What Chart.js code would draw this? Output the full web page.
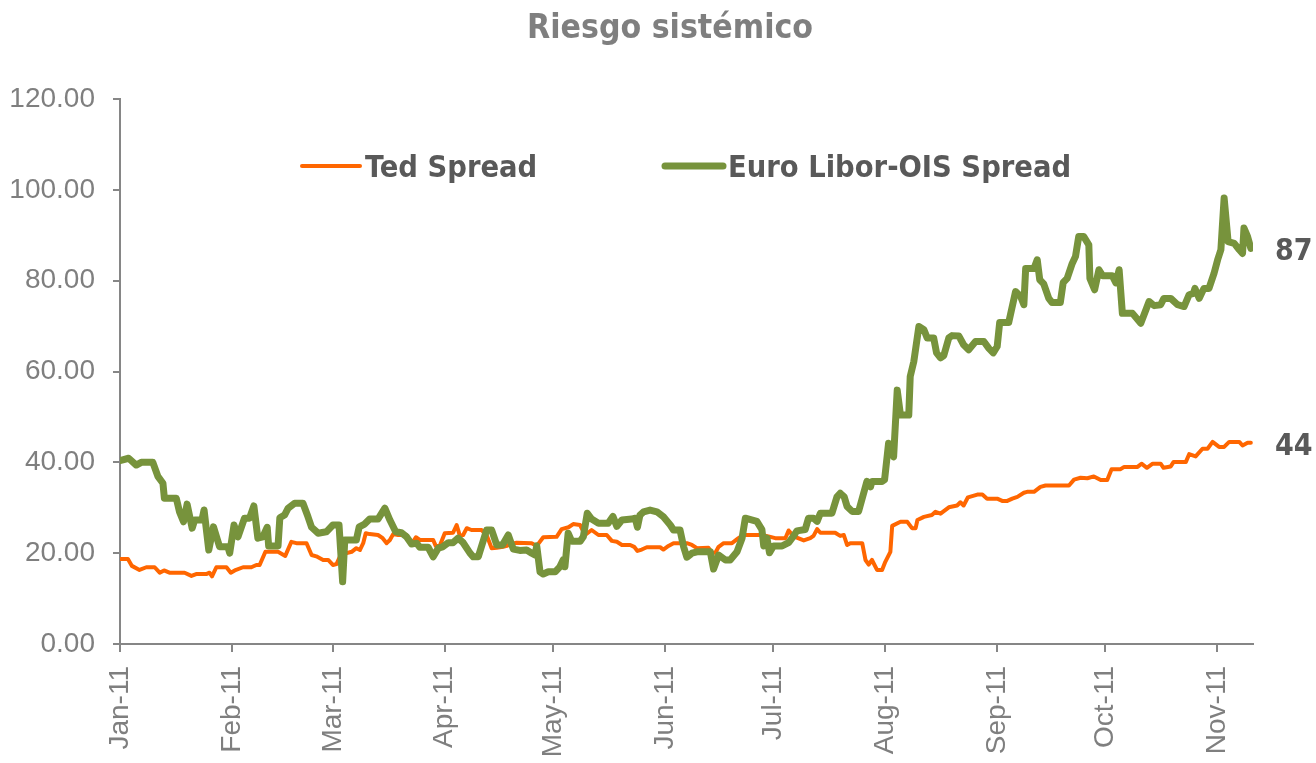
<!DOCTYPE html>
<html>
<head>
<meta charset="utf-8">
<script src="https://cdn.jsdelivr.net/npm/chart.js@4/dist/chart.umd.min.js"></script>
<style>
html, body { margin: 0; background: #fff; }
#wrap { width: 1316px; height: 763px; }
</style>
</head>
<body>
<div id="wrap"><canvas id="chart"></canvas></div>
<script>
// x = days since 1 Jan 2011
const monthTicks = [0, 31, 59, 90, 120, 151, 181, 212, 243, 273, 304];
const monthLabels = ["Jan-11", "Feb-11", "Mar-11", "Apr-11", "May-11", "Jun-11", "Jul-11", "Aug-11", "Sep-11", "Oct-11", "Nov-11"];
const seriesNames = ["Ted Spread", "Euro Libor-OIS Spread"];
const chartTitle = "Riesgo sistémico";

const tedDays = [
  0.1, 2.2, 3.3, 5.4, 7.3, 9.6, 11.0, 12.2, 13.7, 17.9,
  19.8, 21.1, 23.9, 24.8, 25.5, 26.7, 29.5, 30.7, 31.8, 34.1,
  36.4, 37.8, 38.7, 40.3, 43.8, 45.8, 47.5, 48.9, 51.7, 53.1,
  54.4, 56.3, 57.7, 59.0, 60.0, 61.4, 62.8, 64.2, 65.5, 66.5,
  67.4, 68.1, 69.2, 71.5, 72.8, 73.9, 74.8, 75.7, 77.1, 79.4,
  80.8, 82.0, 83.1, 86.8, 87.5, 88.6, 90.0, 92.3, 93.3, 94.2,
  95.1, 96.1, 97.4, 100.2, 101.6, 103.0, 104.4, 106.2, 107.2, 108.1,
  109.9, 114.1, 115.5, 117.3, 121.0, 122.4, 124.3, 125.6, 127.5, 128.9,
  130.7, 132.6, 134.9, 136.3, 137.7, 139.1, 141.4, 142.5, 143.4, 144.6,
  146.0, 149.7, 150.6, 152.0, 153.4, 157.1, 158.5, 159.9, 163.1, 164.0,
  165.0, 165.9, 167.3, 169.6, 171.4, 172.8, 177.9, 179.7, 181.6, 184.4,
  185.3, 186.7, 189.5, 191.3, 192.2, 193.2, 194.1, 198.2, 199.6, 200.6,
  201.5, 202.4, 205.7, 206.6, 207.5, 208.4, 209.8, 211.2, 212.1, 213.5,
  214.0, 216.3, 218.2, 219.5, 220.5, 221.0, 222.8, 225.0, 226.0, 227.4,
  229.7, 232.0, 232.9, 233.8, 235.0, 237.6, 239.0, 240.3, 243.1, 244.5,
  245.9, 247.3, 248.7, 250.5, 251.4, 253.3, 255.1, 256.5, 263.0, 264.4,
  266.2, 268.1, 269.9, 271.8, 273.6, 274.8, 277.3, 278.3, 282.0, 283.1,
  284.6, 286.2, 288.4, 289.2, 291.2, 292.0, 295.4, 296.3, 298.1, 300.0,
  301.4, 302.8, 304.6, 306.0, 307.4, 310.2, 311.1, 312.5, 313.4
];
const tedValues = [
  18.7, 18.7, 17.2, 16.3, 16.9, 16.9, 15.7, 16.2, 15.7, 15.7,
  15.0, 15.4, 15.4, 15.7, 14.9, 16.9, 16.9, 15.7, 16.2, 16.9,
  16.9, 17.4, 17.4, 20.3, 20.3, 19.4, 22.5, 22.2, 22.2, 19.6,
  19.3, 18.5, 18.5, 17.4, 17.6, 20.0, 20.0, 20.3, 21.1, 20.7,
  22.2, 24.4, 24.2, 24.0, 23.3, 22.2, 22.9, 24.2, 24.0, 24.0,
  22.0, 23.5, 22.9, 22.9, 21.6, 21.6, 24.4, 24.5, 26.2, 23.8,
  24.0, 25.5, 25.1, 25.1, 24.0, 21.1, 21.2, 21.4, 21.6, 22.0,
  22.3, 22.2, 21.6, 23.5, 23.6, 25.3, 25.7, 26.4, 26.2, 24.0,
  25.1, 24.0, 24.0, 22.7, 22.5, 21.8, 21.8, 21.4, 20.5, 20.8,
  21.3, 21.3, 20.8, 21.6, 22.2, 22.2, 21.8, 21.1, 21.2, 20.1,
  20.1, 21.4, 22.2, 22.2, 23.3, 24.0, 24.0, 23.7, 23.3, 23.3,
  25.0, 23.7, 22.8, 23.3, 23.8, 25.3, 24.5, 24.5, 23.8, 24.0,
  21.8, 22.2, 22.2, 18.5, 17.5, 18.5, 16.3, 16.3, 18.1, 20.3,
  26.0, 26.9, 26.9, 25.5, 25.5, 27.3, 28.0, 28.4, 29.1, 28.7,
  30.1, 30.5, 31.2, 30.5, 32.3, 32.9, 32.9, 32.0, 32.0, 31.5,
  31.5, 32.0, 32.4, 33.3, 33.5, 33.5, 34.6, 34.9, 34.9, 36.2,
  36.6, 36.5, 36.9, 36.1, 36.1, 38.5, 38.5, 39.0, 39.0, 39.7,
  38.8, 39.7, 39.7, 38.8, 39.1, 40.1, 40.1, 41.8, 41.3, 43.0,
  43.0, 44.5, 43.4, 43.4, 44.5, 44.5, 43.7, 44.3, 44.3
];

const euroDays = [
  0, 2.4, 4.5, 5.9, 9.1, 10.5, 11.9, 12.3, 15.6, 16.5,
  17.6, 18.6, 20.0, 20.7, 22.7, 23.3, 24.6, 25.9, 27.6, 29.9,
  30.4, 31.6, 32.7, 34.5, 35.9, 37.1, 38.2, 39.6, 40.8, 41.2,
  43.8, 44.3, 45.6, 46.6, 48.4, 50.7, 52.1, 53.1, 54.9, 57.2,
  59.0, 60.7, 61.7, 62.3, 65.5, 66.3, 67.8, 69.2, 71.5, 73.4,
  74.8, 76.4, 78.0, 79.4, 80.8, 82.2, 83.1, 85.4, 86.8, 88.2,
  89.4, 91.0, 92.3, 93.7, 95.1, 97.0, 97.9, 99.3, 101.6, 103.0,
  104.4, 106.0, 107.6, 109.0, 110.8, 112.7, 114.1, 115.0, 115.5, 116.4,
  117.3, 118.7, 120.6, 121.9, 122.8, 123.3, 124.2, 125.2, 127.5, 128.4,
  129.5, 130.7, 132.6, 135.3, 136.6, 137.7, 139.1, 141.8, 142.8, 143.4,
  144.1, 145.1, 146.9, 148.8, 150.6, 152.5, 153.4, 155.2, 156.2, 157.1,
  158.5, 159.9, 163.6, 164.5, 165.9, 167.8, 169.1, 171.0, 172.4, 173.3,
  176.5, 177.9, 178.4, 179.3, 180.0, 181.1, 183.5, 185.3, 186.7, 187.6,
  189.9, 190.8, 192.2, 193.2, 194.1, 197.3, 198.7, 199.6, 200.7, 201.5,
  202.9, 204.7, 207.0, 208.0, 208.4, 211.2, 211.9, 213.0, 214.4, 215.4,
  216.3, 218.6, 219.0, 220.0, 221.4, 222.8, 223.7, 225.5, 226.3, 227.4,
  228.3, 229.7, 230.6, 232.5, 233.8, 235.2, 237.1, 239.4, 240.8, 242.0,
  243.1, 243.8, 246.3, 248.2, 249.6, 250.5, 251.0, 253.3, 254.2, 254.9,
  256.0, 257.4, 258.3, 260.6, 261.4, 262.5, 263.9, 264.8, 265.7, 267.1,
  268.5, 268.8, 270.1, 271.3, 272.3, 275.0, 276.0, 276.9, 277.8, 280.6,
  282.9, 285.2, 286.6, 288.4, 289.3, 291.2, 293.1, 294.9, 296.3, 297.5,
  297.9, 299.1, 300.4, 301.8, 303.2, 304.2, 305.1, 306.0, 307.1, 308.8,
  310.2, 311.1, 311.5, 312.5, 313.4
];
const euroValues = [
  40.4, 40.9, 39.4, 40.0, 40.0, 36.9, 35.4, 32.1, 32.1, 29.1,
  26.9, 30.8, 25.5, 27.3, 27.3, 29.5, 20.7, 25.8, 21.4, 21.4,
  20.0, 26.2, 23.6, 27.7, 27.7, 30.4, 23.3, 23.6, 25.7, 21.6,
  21.6, 27.8, 28.4, 29.9, 31.0, 31.0, 28.0, 25.7, 24.4, 24.7,
  26.2, 26.2, 13.7, 22.9, 22.9, 25.8, 26.4, 27.5, 27.5, 29.9,
  27.3, 24.7, 24.5, 23.6, 22.0, 22.2, 21.3, 21.3, 19.2, 21.1,
  21.4, 22.3, 22.3, 23.3, 22.3, 20.0, 19.2, 19.2, 25.1, 25.1,
  21.8, 21.8, 24.0, 20.9, 20.6, 20.7, 20.0, 19.6, 21.6, 15.9,
  15.4, 15.9, 15.9, 17.0, 18.5, 17.0, 24.4, 22.6, 22.6, 23.6,
  28.8, 27.5, 26.6, 26.6, 28.1, 25.9, 27.3, 27.5, 27.7, 25.7,
  28.4, 29.1, 29.5, 29.1, 28.0, 26.2, 25.1, 25.1, 21.4, 19.1,
  20.0, 20.3, 20.3, 16.5, 19.6, 18.5, 18.5, 20.3, 23.3, 27.7,
  27.0, 25.2, 21.6, 23.3, 20.1, 21.6, 21.6, 22.3, 23.8, 24.9,
  25.2, 27.7, 27.7, 27.0, 28.8, 28.8, 32.4, 33.2, 32.4, 30.3,
  29.2, 29.2, 35.8, 34.6, 35.8, 35.8, 36.2, 44.2, 41.2, 55.9,
  50.4, 50.4, 58.9, 62.2, 69.9, 69.2, 67.4, 67.4, 64.1, 63.0,
  63.5, 67.4, 67.9, 67.8, 65.9, 64.8, 66.6, 66.6, 65.1, 64.1,
  65.5, 70.8, 70.8, 77.6, 76.5, 74.7, 82.7, 82.7, 84.6, 80.2,
  79.3, 76.1, 75.2, 75.2, 79.6, 80.5, 83.8, 85.3, 89.7, 89.7,
  87.9, 80.5, 78.0, 82.4, 81.1, 81.1, 79.5, 82.4, 72.8, 72.8,
  70.6, 75.4, 74.5, 74.7, 76.1, 76.1, 74.7, 74.3, 76.9, 77.2,
  78.3, 76.1, 78.3, 78.3, 81.6, 84.6, 86.8, 98.2, 88.6, 88.2,
  86.8, 86.0, 91.6, 89.7, 87.1
];

const tedColor = "#FF6600";
const euroColor = "#77933C";
const axisGray = "#868686";
const textGray = "#7f7f7f";
const darkGray = "#595959";
const boldFont = "'DejaVu Sans Condensed', 'DejaVu Sans', sans-serif";
const tickFont = "'Liberation Sans', Arial, sans-serif";

function toPoints(days, vals) {
    return days.map((d, i) => ({ x: d, y: vals[i] }));
}

// title is not centred on the canvas in the original, so draw it ourselves
const titleText = {
    id: "titleText",
    afterDraw(chart) {
        const ctx = chart.ctx;
        ctx.save();
        ctx.fillStyle = textGray;
        ctx.font = "bold 33.5px " + boldFont;
        ctx.textAlign = "center";
        ctx.textBaseline = "middle";
        ctx.fillText(chartTitle, 670, 29);
        ctx.restore();
    }
};

// legend sits inside the plot, like the excel original
const insideLegend = {
    id: "insideLegend",
    afterDraw(chart) {
        const { ctx, chartArea } = chart;
        const y = chartArea.top + 67;
        const items = [
            { text: seriesNames[0], color: tedColor, width: 4, x: chartArea.left + 182 },
            { text: seriesNames[1], color: euroColor, width: 7, x: chartArea.left + 545 }
        ];
        ctx.save();
        items.forEach(it => {
            ctx.strokeStyle = it.color;
            ctx.lineWidth = it.width;
            ctx.lineCap = "round";
            ctx.beginPath();
            ctx.moveTo(it.x, y);
            ctx.lineTo(it.x + 58, y);
            ctx.stroke();
            ctx.fillStyle = darkGray;
            ctx.font = "bold 30.5px " + boldFont;
            ctx.textBaseline = "middle";
            ctx.textAlign = "left";
            ctx.fillText(it.text, it.x + 63, y + 3);
        });
        ctx.restore();
    }
};

// last values written at the right end
const endLabels = {
    id: "endLabels",
    afterDatasetsDraw(chart) {
        const { ctx, chartArea, scales } = chart;
        ctx.save();
        ctx.fillStyle = darkGray;
        ctx.font = "bold 30px " + boldFont;
        ctx.textBaseline = "middle";
        ctx.textAlign = "left";
        chart.data.datasets.forEach(ds => {
            const last = ds.data[ds.data.length - 1];
            ctx.fillText(String(Math.round(last.y)), chartArea.right + 22, scales.y.getPixelForValue(last.y) + 4);
        });
        ctx.restore();
    }
};

new Chart(document.getElementById("chart").getContext("2d"), {
    type: "line",
    data: {
        datasets: [
            { label: seriesNames[0], data: toPoints(tedDays, tedValues), borderColor: tedColor, borderWidth: 4, order: 1 },
            { label: seriesNames[1], data: toPoints(euroDays, euroValues), borderColor: euroColor, borderWidth: 7, order: 0 }
        ]
    },
    options: {
        responsive: true,
        maintainAspectRatio: false,
        animation: false,
        elements: {
            point: { radius: 0 },
            line: { tension: 0, borderJoinStyle: "round", borderCapStyle: "round", fill: false }
        },
        layout: { padding: { left: 8, right: 63, top: 99, bottom: 0 } },
        plugins: {
            legend: { display: false },
            tooltip: { enabled: false },
            title: { display: false }
        },
        scales: {
            x: {
                type: "linear",
                min: 0,
                max: 314,
                afterBuildTicks: axis => { axis.ticks = monthTicks.map(v => ({ value: v })); },
                afterFit: scale => { scale.height = 119; },
                ticks: {
                    autoSkip: false,
                    minRotation: 90,
                    maxRotation: 90,
                    padding: 14,
                    color: textGray,
                    font: { family: tickFont, size: 28 },
                    callback: v => monthLabels[monthTicks.indexOf(v)]
                },
                grid: { drawOnChartArea: false, tickLength: 8, color: axisGray, lineWidth: 2 },
                border: { color: axisGray, width: 2 }
            },
            y: {
                min: 0,
                max: 120,
                afterFit: scale => { scale.width = 112; },
                ticks: {
                    stepSize: 20,
                    padding: 18,
                    color: textGray,
                    font: { family: tickFont, size: 28 },
                    callback: v => v.toFixed(2)
                },
                grid: { drawOnChartArea: false, tickLength: 7, color: axisGray, lineWidth: 2 },
                border: { color: axisGray, width: 2 }
            }
        }
    },
    plugins: [titleText, insideLegend, endLabels]
});
</script>
</body>
</html>
